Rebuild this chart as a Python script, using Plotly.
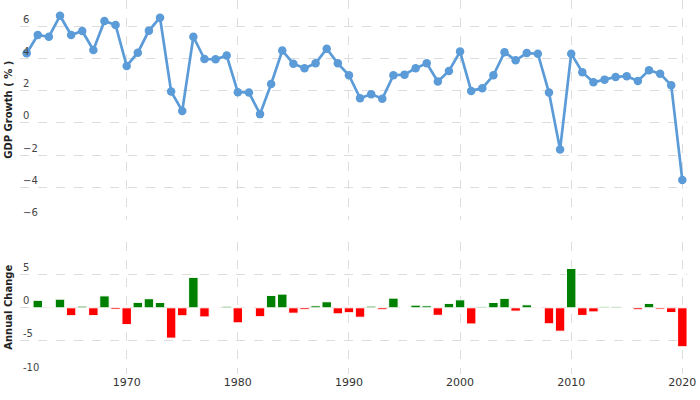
import numpy as np
import plotly.graph_objects as go
from plotly.subplots import make_subplots

years = list(range(1961, 2021))
gdp_growth = [4.32, 5.45, 5.34, 6.64, 5.45, 5.70, 4.52, 6.32, 6.07, 3.53,
              4.35, 5.72, 6.52, 1.94, 0.74, 5.34, 3.96, 3.94, 4.17, 1.90,
              1.88, 0.54, 2.41, 4.48, 3.67, 3.39, 3.69, 4.60, 3.69, 2.95,
              1.53, 1.78, 1.49, 2.95, 2.99, 3.39, 3.69, 2.56, 3.22, 4.42,
              1.98, 2.15, 2.95, 4.38, 3.88, 4.33, 4.29, 1.88, -1.65, 4.29,
              3.14, 2.52, 2.68, 2.85, 2.89, 2.60, 3.26, 3.05, 2.33, -3.55]

change_years = years[1:]
annual_change = list(np.round(np.diff(gdp_growth), 2))
bar_colors = ["#008000" if v >= 0 else "#ff0000" for v in annual_change]

top_ticks = [-6, -4, -2, 0, 2, 4, 6]
bottom_ticks = [-10, -5, 0, 5, 10]
bottom_ticktext = ["-10", "-5", "0", "5", ""]
x_ticks = [1970, 1980, 1990, 2000, 2010, 2020]

fig = make_subplots(rows=2, cols=1, shared_xaxes=True, vertical_spacing=0.0)

fig.add_trace(go.Scatter(
    x=years, y=gdp_growth, mode="lines+markers",
    line=dict(color="#5b9bd8", width=2.7),
    marker=dict(color="#5b9bd8", size=8.5),
    showlegend=False), row=1, col=1)

fig.add_trace(go.Bar(
    x=change_years, y=annual_change,
    marker=dict(color=bar_colors, line=dict(color="white", width=1)),
    showlegend=False), row=2, col=1)

grid = dict(showgrid=True, gridcolor="#dddddd", griddash="dash", gridwidth=1,
            zeroline=False, showline=False, ticks="")
tickfont = dict(family="DejaVu Sans", size=10, color="#444")

fig.update_layout(
    width=700, height=400,
    margin=dict(l=20, r=13, t=0, b=26),
    paper_bgcolor="white", plot_bgcolor="white",
    bargap=0.15,
    xaxis=dict(domain=[0, 1], range=[1960.4, 2020.42], tickvals=x_ticks,
               showticklabels=False, **grid),
    xaxis2=dict(domain=[0, 1], range=[1960.4, 2020.42], tickvals=x_ticks,
                tickfont=dict(family="DejaVu Sans", size=11, color="#333"), **grid),
    yaxis=dict(domain=[0.413, 1.0], range=[-6, 7.62], tickvals=top_ticks,
               ticklabelposition="inside top", tickfont=tickfont, **grid),
    yaxis2=dict(domain=[0.0, 0.354], range=[-10, 10], tickvals=bottom_ticks,
                ticktext=bottom_ticktext,
                ticklabelposition="inside top", tickfont=tickfont, **grid),
)

title_font = dict(family="DejaVu Sans", size=10, color="#222")
fig.add_annotation(text="<b>GDP Growth ( % )</b>", textangle=-90,
                   xref="paper", yref="paper", x=0, y=(0.413 + 1.0) / 2,
                   xanchor="center", yanchor="middle", xshift=-11,
                   showarrow=False, font=title_font)
fig.add_annotation(text="<b>Annual Change</b>", textangle=-90,
                   xref="paper", yref="paper", x=0, y=0.354 / 2,
                   xanchor="center", yanchor="middle", xshift=-11,
                   showarrow=False, font=title_font)

fig.write_html("out.html", config={"displayModeBar": False},
               post_script="document.body.style.margin='0';document.body.style.overflow='hidden';")
